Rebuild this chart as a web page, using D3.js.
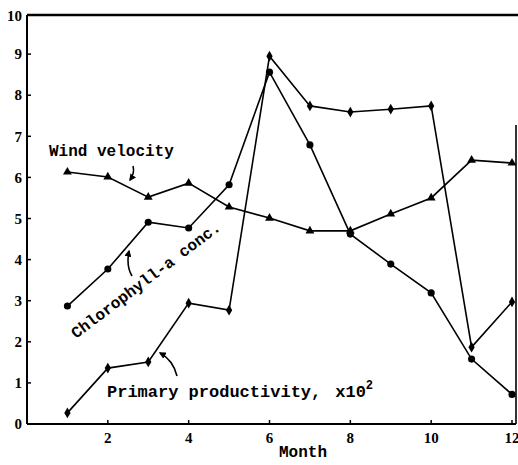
<!DOCTYPE html>
<html>
<head>
<meta charset="utf-8">
<script src="https://cdn.jsdelivr.net/npm/d3@7"></script>
<style>
  body { margin: 0; background: #fff; }
  svg { display: block; }
  .tick-label { font-family: "Liberation Serif", serif; font-weight: bold; font-size: 15px; fill: #000; }
  .note { font-family: "Liberation Mono", monospace; font-weight: bold; fill: #000; white-space: pre; }
</style>
</head>
<body>
<svg id="chart" width="518" height="465"></svg>
<script>
// Values (month 1..12)
const months = [1, 2, 3, 4, 5, 6, 7, 8, 9, 10, 11, 12];
const windVelocity = [6.13, 6.01, 5.52, 5.86, 5.28, 5.01, 4.7, 4.7, 5.11, 5.5, 6.42, 6.35];
const chlorophyll = [2.87, 3.77, 4.91, 4.77, 5.82, 8.56, 6.79, 4.62, 3.89, 3.19, 1.58, 0.72];
const productivity = [0.27, 1.36, 1.51, 2.94, 2.77, 8.95, 7.74, 7.59, 7.66, 7.74, 1.87, 2.97];

const xTicks = [2, 4, 6, 8, 10, 12];
const yTicks = [0, 1, 2, 3, 4, 5, 6, 7, 8, 9, 10];

const svg = d3.select("#chart");

const plotLeft = 27, plotRight = 516, plotTop = 13, plotBottom = 424;

const x = d3.scaleLinear().domain([0, 12]).range([plotLeft, 512]);
const y = d3.scaleLinear().domain([0, 10]).range([plotBottom, plotTop]);

// arrow head used by the little pointers
svg.append("defs")
  .append("marker")
  .attr("id", "head")
  .attr("viewBox", "0 0 10 10")
  .attr("refX", 8)
  .attr("refY", 5)
  .attr("markerWidth", 7)
  .attr("markerHeight", 7)
  .attr("markerUnits", "userSpaceOnUse")
  .attr("orient", "auto")
  .append("path")
  .attr("d", "M0,0 L10,5 L0,10 z")
  .attr("fill", "#000");

// frame: left and bottom axes, top rule, partial right rule
const frame = svg.append("g").attr("stroke", "#000").attr("fill", "none");
frame.append("line").attr("x1", plotLeft).attr("x2", plotLeft).attr("y1", plotTop + 2).attr("y2", plotBottom).attr("stroke-width", 2);
frame.append("line").attr("x1", plotLeft).attr("x2", plotRight).attr("y1", plotBottom).attr("y2", plotBottom).attr("stroke-width", 2.2);
frame.append("line").attr("x1", plotLeft).attr("x2", 518).attr("y1", plotTop + 2).attr("y2", plotTop + 2).attr("stroke-width", 2.6);
frame.append("line").attr("x1", plotRight).attr("x2", plotRight).attr("y1", 125).attr("y2", plotBottom).attr("stroke-width", 1.6);

// y axis ticks (inside) and labels
const yAxis = svg.append("g");
yAxis.selectAll("line")
  .data(yTicks.filter(d => d > 0 && d < 10))
  .enter()
  .append("line")
  .attr("x1", plotLeft)
  .attr("x2", plotLeft + 4)
  .attr("y1", d => y(d))
  .attr("y2", d => y(d))
  .attr("stroke", "#000")
  .attr("stroke-width", 1.5);
yAxis.selectAll("text")
  .data(yTicks)
  .enter()
  .append("text")
  .attr("class", "tick-label")
  .attr("x", 22)
  .attr("y", d => (d === 10 ? y(d) + 3 : y(d)))
  .attr("dy", "0.35em")
  .attr("text-anchor", "end")
  .text(d => d);

// x axis ticks (inside) and labels
const xAxis = svg.append("g");
xAxis.selectAll("line")
  .data(xTicks)
  .enter()
  .append("line")
  .attr("x1", d => x(d))
  .attr("x2", d => x(d))
  .attr("y1", plotBottom)
  .attr("y2", plotBottom - 4)
  .attr("stroke", "#000")
  .attr("stroke-width", 1.5);
xAxis.selectAll("text")
  .data(xTicks)
  .enter()
  .append("text")
  .attr("class", "tick-label")
  .attr("x", d => x(d))
  .attr("y", 443)
  .attr("text-anchor", "middle")
  .text(d => d);

svg.append("text")
  .attr("class", "note")
  .attr("x", 303)
  .attr("y", 457)
  .attr("text-anchor", "middle")
  .style("font-size", "16px")
  .text("Month");

// the three series
const series = [
  { name: "wind", values: windVelocity, symbol: d3.symbolTriangle, size: 34 },
  { name: "chl", values: chlorophyll, symbol: d3.symbolCircle, size: 40 },
  { name: "prod", values: productivity, symbol: d3.symbolDiamond, size: 34 }
];

const line = d3.line()
  .x(d => x(d.month))
  .y(d => y(d.value));

series.forEach(s => {
  const pts = months.map((m, i) => ({ month: m, value: s.values[i] }));

  svg.append("path")
    .datum(pts)
    .attr("d", line)
    .attr("fill", "none")
    .attr("stroke", "#000")
    .attr("stroke-width", 1.6);

  svg.append("g")
    .selectAll("path")
    .data(pts)
    .enter()
    .append("path")
    .attr("transform", d => `translate(${x(d.month)},${y(d.value)})`)
    .attr("d", d3.symbol().type(s.symbol).size(s.size))
    .attr("fill", "#000");
});

// labels with their pointers
svg.append("text")
  .attr("class", "note")
  .attr("x", 49)
  .attr("y", 156)
  .style("font-size", "16px")
  .text("Wind velocity");

svg.append("path")
  .attr("d", "M133,166 Q135,173 130,180")
  .attr("fill", "none")
  .attr("stroke", "#000")
  .attr("stroke-width", 1.6)
  .attr("marker-end", "url(#head)");

svg.append("text")
  .attr("class", "note")
  .attr("transform", "translate(76,339) rotate(-37)")
  .style("font-size", "16px")
  .text("Chlorophyll-a conc.");

svg.append("path")
  .attr("d", "M132,276 Q126,266 129,251")
  .attr("fill", "none")
  .attr("stroke", "#000")
  .attr("stroke-width", 1.6)
  .attr("marker-end", "url(#head)");

const prodLabel = svg.append("text")
  .attr("class", "note")
  .attr("x", 107)
  .attr("y", 397)
  .style("font-size", "17px");
prodLabel.append("tspan").text("Primary productivity,");
prodLabel.append("tspan").attr("dx", 14).text("x10");
prodLabel.append("tspan")
  .attr("dy", -8)
  .style("font-size", "12px")
  .text("2");

svg.append("path")
  .attr("d", "M177,376 Q173,360 160,353")
  .attr("fill", "none")
  .attr("stroke", "#000")
  .attr("stroke-width", 1.6)
  .attr("marker-end", "url(#head)");
</script>
</body>
</html>
